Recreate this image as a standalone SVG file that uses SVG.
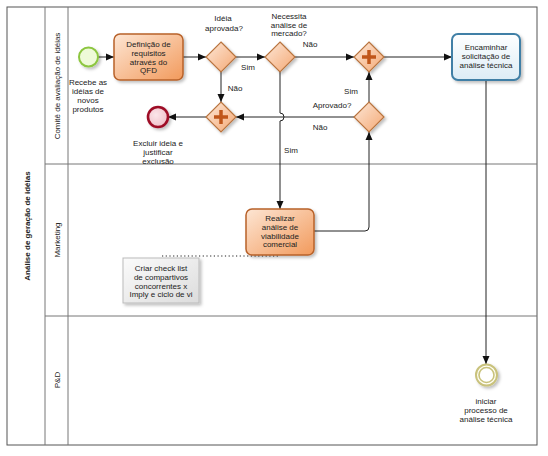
<svg xmlns="http://www.w3.org/2000/svg" width="548" height="456" viewBox="0 0 548 456">
<style>
text{font-family:"Liberation Sans",Arial,sans-serif;font-size:8px;fill:#222}
.c{text-anchor:middle}
.pool{fill:#fff;stroke:#555;stroke-width:1}
.lane{stroke:#777;stroke-width:1;fill:none}
.flow{fill:none;stroke:#222;stroke-width:1}
.task{fill:url(#gTask);stroke:#b8622a;stroke-width:1.5}
.gw{fill:url(#gGw);stroke:#b9743f;stroke-width:1.2}
.plus{stroke:#c0561a;stroke-width:3.5;fill:none}
</style>
<defs>
<linearGradient id="gTask" x1="0" y1="0" x2="1" y2="1">
<stop offset="0" stop-color="#fde6d4"/><stop offset="1" stop-color="#f29a5c"/>
</linearGradient>
<linearGradient id="gGw" x1="0" y1="0" x2="1" y2="1">
<stop offset="0" stop-color="#fde8d8"/><stop offset="1" stop-color="#f4a874"/>
</linearGradient>
<linearGradient id="gBlue" x1="0" y1="0" x2="0" y2="1">
<stop offset="0" stop-color="#ffffff"/><stop offset="1" stop-color="#dcecf6"/>
</linearGradient>
<linearGradient id="gNote" x1="0" y1="0" x2="1" y2="1">
<stop offset="0" stop-color="#fbfbfb"/><stop offset="1" stop-color="#dcdcdc"/>
</linearGradient>
<radialGradient id="gEnd" cx="0.4" cy="0.4" r="0.7">
<stop offset="0" stop-color="#fbe6ea"/><stop offset="1" stop-color="#efbcc6"/>
</radialGradient>
<filter id="sh" x="-30%" y="-30%" width="160%" height="160%">
<feDropShadow dx="2" dy="2" stdDeviation="1.5" flood-color="#000" flood-opacity="0.25"/>
</filter>
<marker id="ar" viewBox="0 0 8 8" refX="8" refY="4" markerWidth="8" markerHeight="8" markerUnits="userSpaceOnUse" orient="auto">
<path d="M0,0.5 L8,4 L0,7.5 Z" fill="#111"/>
</marker>
</defs>

<g id="pool">
<rect class="pool" x="7" y="7" width="530" height="438"/>
<line class="lane" x1="45" y1="7" x2="45" y2="445"/>
<line class="lane" x1="68" y1="7" x2="68" y2="445"/>
<line class="lane" x1="45" y1="164" x2="537" y2="164"/>
<line class="lane" x1="45" y1="316" x2="537" y2="316"/>
<text class="c" transform="translate(30,226) rotate(-90)" style="font-weight:bold">Análise de geração de idéias</text>
<text class="c" transform="translate(60,86) rotate(-90)">Comitê de avaliação de idéias</text>
<text class="c" transform="translate(60,240) rotate(-90)">Marketing</text>
<text class="c" transform="translate(60,380) rotate(-90)">P&amp;D</text>
</g>

<g id="connectors">
<line class="flow" x1="98" y1="57" x2="114" y2="57" marker-end="url(#ar)"/>
<line class="flow" x1="183" y1="57" x2="206" y2="57" marker-end="url(#ar)"/>
<line class="flow" x1="236" y1="57" x2="265" y2="57" marker-end="url(#ar)"/>
<line class="flow" x1="295" y1="57" x2="354" y2="57" marker-end="url(#ar)"/>
<line class="flow" x1="384" y1="57" x2="452" y2="57" marker-end="url(#ar)"/>
<line class="flow" x1="221" y1="72" x2="221" y2="102" marker-end="url(#ar)"/>
<path class="flow" d="M280,72 V113 A4,4 0 0 1 280,121 V209" marker-end="url(#ar)"/>
<line class="flow" x1="354" y1="117" x2="236" y2="117" marker-end="url(#ar)"/>
<line class="flow" x1="206" y1="117" x2="168" y2="117" marker-end="url(#ar)"/>
<path class="flow" d="M314,231 H365 Q369,231 369,227 V132" marker-end="url(#ar)"/>
<line class="flow" x1="369" y1="102" x2="369" y2="72" marker-end="url(#ar)"/>
<line class="flow" x1="486" y1="80" x2="486" y2="364" marker-end="url(#ar)"/>
<line x1="162" y1="256" x2="280" y2="256" stroke="#222" stroke-width="1.2" stroke-dasharray="1.2,2.5"/>
<text class="c" x="248" y="70">Sim</text>
<text class="c" x="235" y="91">Não</text>
<text class="c" x="310" y="47">Não</text>
<text class="c" x="351" y="94">Sim</text>
<text class="c" x="320" y="130">Não</text>
<text class="c" x="291" y="153">Sim</text>
</g>

<g id="start">
<circle cx="88.5" cy="57" r="9.5" fill="#eefad8" stroke="#8cc63f" stroke-width="2" filter="url(#sh)"/>
<text class="c" x="88" y="85">Recebe as</text>
<text class="c" x="88" y="94">idéias de</text>
<text class="c" x="88" y="103">novos</text>
<text class="c" x="88" y="112">produtos</text>
</g>

<g id="task-qfd">
<rect class="task" x="114" y="34" width="69" height="46" rx="6" filter="url(#sh)"/>
<text class="c" x="148.5" y="47">Definição de</text>
<text class="c" x="148.5" y="56">requisitos</text>
<text class="c" x="148.5" y="64.5">através do</text>
<text class="c" x="148.5" y="73">QFD</text>
</g>

<g id="gw-ideia">
<path class="gw" d="M221,42 L236,57 L221,72 L206,57 Z" filter="url(#sh)"/>
<text class="c" x="223" y="21">Idéia</text>
<text class="c" x="224" y="31">aprovada?</text>
</g>

<g id="gw-mercado">
<path class="gw" d="M280,42 L295,57 L280,72 L265,57 Z" filter="url(#sh)"/>
<text class="c" x="289" y="19">Necessita</text>
<text class="c" x="289" y="28">análise de</text>
<text class="c" x="289" y="36">mercado?</text>
</g>

<g id="gw-join">
<path class="gw" d="M369,42 L384,57 L369,72 L354,57 Z" filter="url(#sh)"/>
<path class="plus" d="M369,50 V64 M362,57 H376"/>
</g>

<g id="task-encaminhar">
<rect x="452" y="34" width="68" height="46" rx="6" fill="url(#gBlue)" stroke="#3f7fa6" stroke-width="2" filter="url(#sh)"/>
<text class="c" x="486" y="50">Encaminhar</text>
<text class="c" x="486" y="59">solicitação de</text>
<text class="c" x="486" y="68">análise técnica</text>
</g>

<g id="gw-merge">
<path class="gw" d="M221,102 L236,117 L221,132 L206,117 Z" filter="url(#sh)"/>
<path class="plus" d="M221,110 V124 M214,117 H228"/>
</g>

<g id="end">
<circle cx="158" cy="117" r="10" fill="url(#gEnd)" stroke="#9e1028" stroke-width="2.6" filter="url(#sh)"/>
<text class="c" x="158" y="146">Excluir ideia e</text>
<text class="c" x="158" y="155">justificar</text>
<text class="c" x="158" y="164">exclusão</text>
</g>

<g id="gw-aprovado">
<path class="gw" d="M369,102 L384,117 L369,132 L354,117 Z" filter="url(#sh)"/>
<text class="c" x="332" y="108">Aprovado?</text>
</g>

<g id="task-realizar">
<rect class="task" x="246" y="209" width="68" height="46" rx="6" filter="url(#sh)"/>
<text class="c" x="280" y="221">Realizar</text>
<text class="c" x="280" y="230">análise de</text>
<text class="c" x="280" y="238.5">viabilidade</text>
<text class="c" x="280" y="247">comercial</text>
</g>

<g id="annotation">
<rect x="123" y="258" width="76" height="45" fill="url(#gNote)" stroke="#bbb" stroke-width="1" filter="url(#sh)"/>
<text class="c" x="161" y="271">Criar check list</text>
<text class="c" x="161" y="280">de compartivos</text>
<text class="c" x="161" y="288.5">concorrentes  x</text>
<text class="c" x="161" y="297">Imply e ciclo de vi</text>
</g>

<g id="intermediate">
<circle cx="486.5" cy="375" r="10.5" fill="#fffef4" stroke="#c9c27c" stroke-width="2" filter="url(#sh)"/>
<circle cx="486.5" cy="375" r="7.5" fill="#fff" stroke="#c9c27c" stroke-width="1.6"/>
<text class="c" x="486" y="404">iniciar</text>
<text class="c" x="486" y="413">processo de</text>
<text class="c" x="486" y="422">análise técnica</text>
</g>
</svg>
